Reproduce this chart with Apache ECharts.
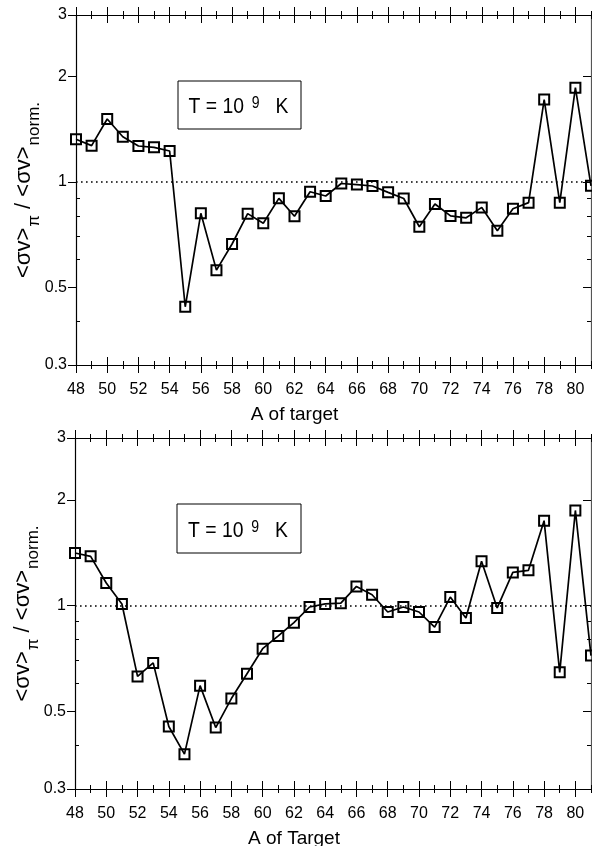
<!DOCTYPE html>
<html><head><meta charset="utf-8">
<script src="https://cdn.jsdelivr.net/npm/echarts@6/dist/echarts.min.js"></script>
<style>html,body{margin:0;padding:0;background:#fff}#c{width:592px;height:846px}</style>
</head><body><div id="c"></div>
<script>
// ---- data ----
const massNumbers = [48,49,50,51,52,53,54,55,56,57,58,59,60,61,62,63,64,65,66,67,68,69,70,71,72,73,74,75,76,77,78,79,80,81];
const ratioTop = [1.324,1.27,1.514,1.347,1.267,1.256,1.226,0.440,0.814,0.560,0.665,0.812,0.762,0.898,0.798,0.938,0.912,0.990,0.983,0.974,0.934,0.897,0.745,0.865,0.800,0.790,0.846,0.726,0.839,0.873,1.72,0.873,1.86,0.975];
const ratioBottom = [1.411,1.38,1.159,1.01,0.628,0.686,0.452,0.377,0.591,0.449,0.543,0.639,0.753,0.819,0.893,0.990,1.01,1.015,1.133,1.073,0.958,0.990,0.958,0.868,1.057,0.921,1.336,0.984,1.242,1.259,1.744,0.645,1.865,0.72];
const xMajorTicks = [48,50,52,54,56,58,60,62,64,66,68,70,72,74,76,78,80];
const yMajorTicks = [0.3,0.5,1,2,3];
const yMinorTicks = [0.4,0.6,0.7,0.8,0.9];
const yRightMajor = [0.5,1,2];
const xTitles = ['A of target','A of Target'];
const yTitle = '{m|<σv>}{sub|π}{m| / <σv>}{sub|norm.}';
const boxText = '{m|T = 10}{s|9}{m| K}';
const refLine = 1;

const FONT = '"Liberation Sans", Arial, Helvetica, sans-serif';
const grids = [
  {left:76, right:1, top:15, height:350, outerBoundsMode:'none', containLabel:false},
  {left:75, right:1, top:438, height:351, outerBoundsMode:'none', containLabel:false}
];
const boxes = [
  {x:178, y:81, w:123, h:48},
  {x:177, y:504, w:124, h:49}
];
const panels = [ratioTop, ratioBottom];

const xAxes = [], yAxes = [], series = [], graphic = [];
const axisLineStyle = {color:'#000', width:1.2};

grids.forEach((g, gi) => {
  const xBase = xAxes.length;
  const yBase = yAxes.length;
  ['bottom','top'].forEach(pos => {
    const main = pos === 'bottom';
    xAxes.push({
      gridIndex:gi, type:'value', min:48, max:81, position:pos,
      axisLine:{show:true, onZero:false, lineStyle:axisLineStyle},
      axisTick:{show:true, inside:true, length:8, customValues:xMajorTicks, lineStyle:{color:'#000', width:1}},
      axisLabel:{show:main, customValues:xMajorTicks, fontSize:16, color:'#000', fontFamily:FONT, margin:17},
      splitLine:{show:false},
      name: main ? xTitles[gi] : '',
      nameLocation:'middle', nameGap:40, nameMoveOverlap:false,
      nameTextStyle:{fontSize:19, color:'#000', fontFamily:FONT, padding:[0,78,0,0]}
    });
    xAxes.push({
      gridIndex:gi, type:'value', min:48, max:81, position:pos,
      axisLine:{show:false, onZero:false},
      axisTick:{show:true, inside:false, length:8, customValues:xMajorTicks, lineStyle:{color:'#000', width:1}},
      axisLabel:{show:false}, splitLine:{show:false}
    });
    [true,false].forEach(ins => {
      xAxes.push({
        gridIndex:gi, type:'value', min:48, max:81, interval:1, position:pos,
        axisLine:{show:false, onZero:false},
        axisTick:{show:true, inside:ins, length:4, lineStyle:{color:'#000', width:1}},
        axisLabel:{show:false}, splitLine:{show:false}
      });
    });
  });
  yAxes.push({
    gridIndex:gi, type:'log', logBase:10, min:0.3, max:3, position:'left',
    axisLine:{show:true, onZero:false, lineStyle:axisLineStyle},
    axisTick:{show:true, inside:false, length:8, customValues:yMajorTicks, lineStyle:{color:'#000', width:1}},
    axisLabel:{show:true, customValues:yMajorTicks, fontSize:16, color:'#000', fontFamily:FONT, margin:9,
      formatter: v => String(+(+v).toPrecision(3))},
    splitLine:{show:false},
    name: yTitle, nameLocation:'middle', nameGap:33, nameMoveOverlap:false,
    nameTextStyle:{color:'#000', fontFamily:FONT,
      rich:{
        m:{fontSize:22, lineHeight:22, verticalAlign:'top', fontFamily:FONT, color:'#000'},
        sub:{fontSize:17, padding:[13,0,0,1], fontFamily:FONT, color:'#000'}
      }}
  });
  yAxes.push({
    gridIndex:gi, type:'log', logBase:10, min:0.3, max:3, position:'left',
    axisLine:{show:false, onZero:false},
    axisTick:{show:true, inside:true, length:4, customValues:yMinorTicks, lineStyle:{color:'#000', width:1}},
    axisLabel:{show:false}, splitLine:{show:false}
  });
  yAxes.push({
    gridIndex:gi, type:'log', logBase:10, min:0.3, max:3, position:'right',
    axisLine:{show:true, onZero:false, lineStyle:{color:'#555', width:1.2}},
    axisTick:{show:true, inside:true, length:8, customValues:yRightMajor, lineStyle:{color:'#000', width:1}},
    axisLabel:{show:false}, splitLine:{show:false}
  });
  yAxes.push({
    gridIndex:gi, type:'log', logBase:10, min:0.3, max:3, position:'right',
    axisLine:{show:false, onZero:false},
    axisTick:{show:true, inside:true, length:4, customValues:yMinorTicks, lineStyle:{color:'#000', width:1}},
    axisLabel:{show:false}, splitLine:{show:false}
  });

  series.push({
    type:'line', xAxisIndex:xBase, yAxisIndex:yBase,
    data: massNumbers.map((a, i) => [a, panels[gi][i]]),
    symbol:'rect', symbolSize:10, showAllSymbol:true,
    itemStyle:{color:'rgba(0,0,0,0)', borderColor:'#000', borderWidth:2},
    lineStyle:{color:'#000', width:1.7},
    emphasis:{disabled:true}, animation:false, z:3,
    markLine:{silent:true, symbol:['none','none'], label:{show:false},
      lineStyle:{type:[1.6,3.4], color:'#000', width:1.5},
      data:[{yAxis:refLine}]}
  });

  const b = boxes[gi];
  graphic.push({type:'rect', shape:{x:b.x, y:b.y, width:b.w, height:b.h},
    style:{fill:'#fff', stroke:'#000', lineWidth:1}, z:10});
  graphic.push({type:'text', x:b.x + b.w/2 - 1, y:b.y + b.h/2 + 2, scaleX:0.88, z:11,
    style:{text:boxText, align:'center', verticalAlign:'middle', fill:'#000',
      rich:{m:{fontSize:22, lineHeight:28, fontFamily:FONT, fill:'#000'},
            s:{fontSize:16, lineHeight:16, verticalAlign:'top', padding:[3,12,0,9], fontFamily:FONT, fill:'#000'}}}});
});

const chart = echarts.init(document.getElementById('c'), null, {renderer:'canvas'});
chart.setOption({
  animation:false,
  backgroundColor:'#fff',
  grid: grids,
  xAxis: xAxes,
  yAxis: yAxes,
  series: series,
  graphic: graphic
});
</script>
</body></html>
